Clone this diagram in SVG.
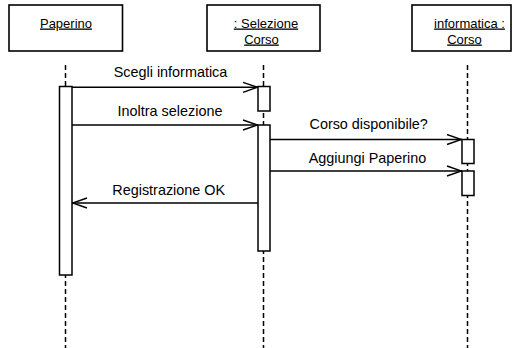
<svg xmlns="http://www.w3.org/2000/svg" width="514" height="348" viewBox="0 0 514 348">
<style>
.obj{fill:#fff;stroke:#000;stroke-width:1.6}
.act{fill:#fff;stroke:#000;stroke-width:1.5}
.life{stroke:#000;stroke-width:1.5;stroke-dasharray:5 3;fill:none}
.msg{stroke:#000;stroke-width:1.4;fill:none}
.lbl{font-family:"Liberation Sans",Arial,sans-serif;font-size:13px;fill:#000;text-anchor:middle;text-decoration:underline}
.mt{font-family:"Liberation Sans",Arial,sans-serif;font-size:14.4px;fill:#000;text-anchor:middle}
</style>
<defs>
<marker id="open" viewBox="0 0 16 12" refX="16" refY="6" markerWidth="16" markerHeight="12" markerUnits="userSpaceOnUse" orient="auto">
<path d="M1,1 L15.5,6 L1,11" fill="none" stroke="#000" stroke-width="1.4"/>
</marker>
</defs>
<rect width="514" height="348" fill="#fff"/>
<g id="lifelines">
<line class="life" x1="65.5" y1="65" x2="65.5" y2="348"/>
<line class="life" x1="263.5" y1="65" x2="263.5" y2="348"/>
<line class="life" x1="467.5" y1="65" x2="467.5" y2="348"/>
</g>
<g id="paperino">
<rect class="obj" x="9" y="5" width="113.5" height="46"/>
<text class="lbl" x="66" y="27.5">Paperino</text>
</g>
<g id="selezione">
<rect class="obj" x="207" y="5" width="113" height="46"/>
<text class="lbl" x="266" y="27.5">: Selezione</text>
<text class="lbl" x="261.5" y="43.5">Corso</text>
</g>
<g id="informatica">
<rect class="obj" x="412" y="5" width="99" height="46"/>
<text class="lbl" x="469.5" y="27.5">informatica :</text>
<text class="lbl" x="464.5" y="43.5">Corso</text>
</g>
<g id="activations">
<rect class="act" x="59.5" y="86.5" width="12.5" height="188.5"/>
<rect class="act" x="258" y="86.5" width="12" height="24.5"/>
<rect class="act" x="258" y="125" width="12" height="126"/>
<rect class="act" x="462" y="139.5" width="12" height="24"/>
<rect class="act" x="462" y="171" width="12" height="24.5"/>
</g>
<g id="connectors">
<line class="msg" x1="72" y1="87.3" x2="258" y2="87.3" marker-end="url(#open)"/>
<line class="msg" x1="72" y1="125" x2="258" y2="125" marker-end="url(#open)"/>
<line class="msg" x1="270" y1="139.5" x2="462" y2="139.5" marker-end="url(#open)"/>
<line class="msg" x1="270" y1="171" x2="462" y2="171" marker-end="url(#open)"/>
<line class="msg" x1="258" y1="203" x2="72" y2="203" marker-end="url(#open)"/>
<text class="mt" x="170.5" y="77.3">Scegli informatica</text>
<text class="mt" x="170" y="116.3">Inoltra selezione</text>
<text class="mt" x="368.7" y="129.3">Corso disponibile?</text>
<text class="mt" x="367.5" y="162.5">Aggiungi Paperino</text>
<text class="mt" x="168.7" y="194.5">Registrazione OK</text>
</g>
</svg>
